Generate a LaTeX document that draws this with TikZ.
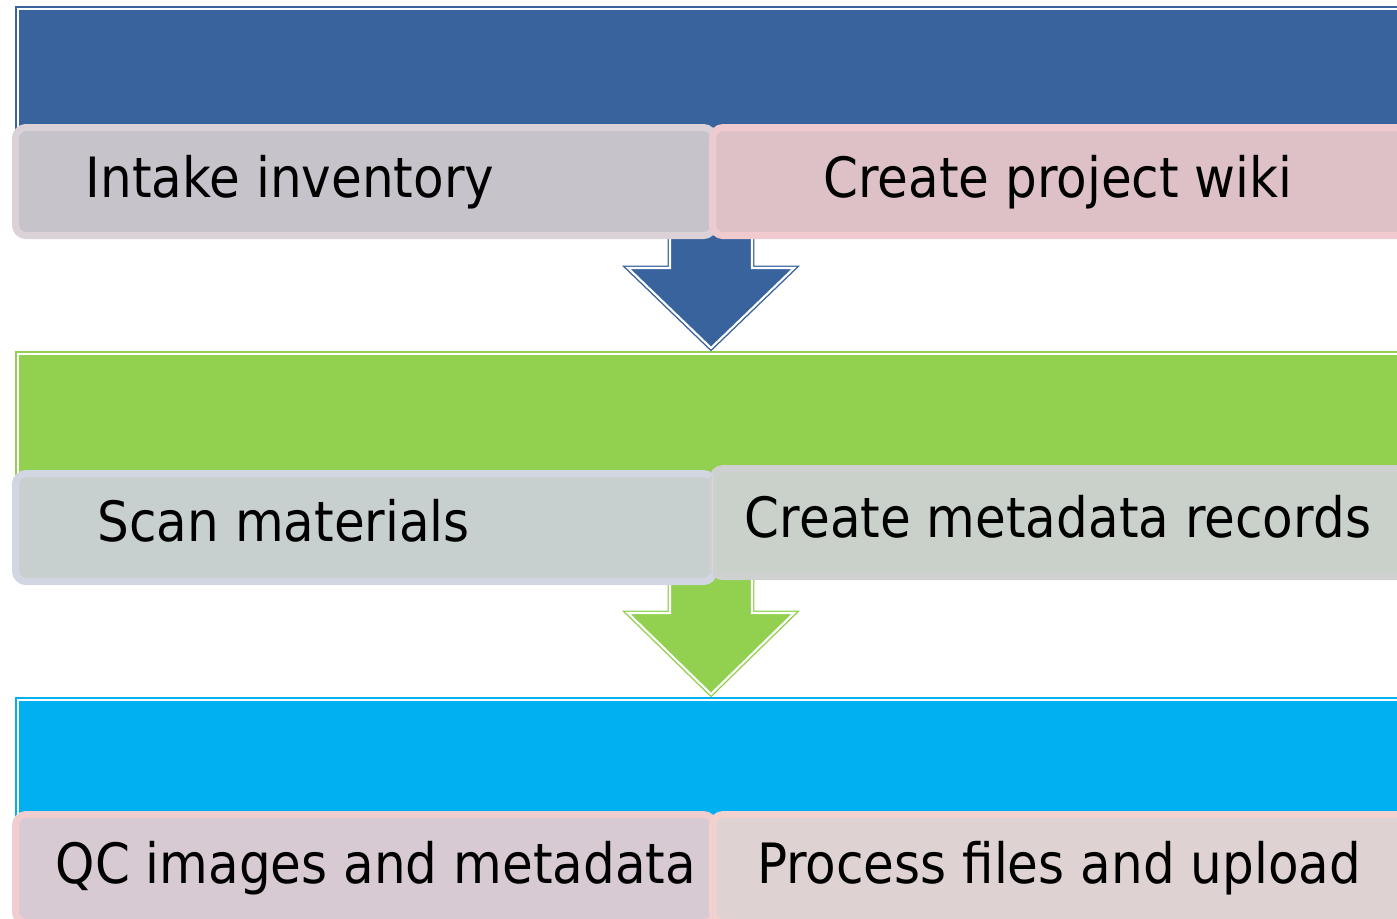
\documentclass[tikz,border=0pt]{standalone}
\usepackage{fontspec}
\setmainfont{DejaVu Sans}[FakeStretch=0.9]
\usepackage{tikz}
\usetikzlibrary{positioning, calc}
\definecolor{planblue}{RGB}{57, 99, 157}
\definecolor{scangreen}{RGB}{146, 208, 80}
\definecolor{qccyan}{RGB}{0, 176, 240}
\definecolor{intakefill}{RGB}{198, 195, 203}
\definecolor{intakeline}{RGB}{218, 210, 215}
\definecolor{wikifill}{RGB}{222, 192, 199}
\definecolor{wikiline}{RGB}{240, 202, 206}
\definecolor{scanfill}{RGB}{200, 208, 207}
\definecolor{scanline}{RGB}{210, 214, 226}
\definecolor{metafill}{RGB}{201, 209, 202}
\definecolor{metaline}{RGB}{207, 209, 209}
\definecolor{qcfill}{RGB}{216, 202, 210}
\definecolor{qcline}{RGB}{240, 206, 208}
\definecolor{uploadfill}{RGB}{222, 210, 211}
\definecolor{uploadline}{RGB}{243, 209, 207}

\begin{document}
\begin{tikzpicture}[
    x=0.01cm, y=-0.01cm,
    band/.style={draw=#1, fill=#1, double=white, double distance=0.6pt, line width=0.4pt, minimum width=14cm, minimum height=1.5cm, anchor=north west, inner sep=0pt},
    taskbox/.style={draw=#1line, fill=#1fill, line width=2pt, rounded corners=3pt, minimum width=6.98cm, minimum height=1.08cm, anchor=north west, inner sep=0pt},
    tasktext/.style={font=\fontsize{15.8}{19}\selectfont, inner sep=0pt},
    blockarrow/.style={draw=#1, fill=#1, double=white, double distance=0.6pt, line width=0.4pt}
]
    \useasboundingbox (0,0) rectangle (1397,918);
    \clip (0,0) rectangle (1397,918);

    % Bands
    \node[band=planblue] (planband) at (17,8) {};
    \node[band=scangreen] (scanband) at (17,353) {};
    \node[band=qccyan] (qcband) at (17,699) {};

    % Block arrows
    \coordinate (tip1) at (711,348);
    \coordinate (tip2) at (711,694);
    \draw[blockarrow=planblue] (tip1) -- ++(-83,-80) -- ++(42,0) -- ++(0,-80) -- ++(82,0) -- ++(0,80) -- ++(42,0) -- cycle;
    \draw[blockarrow=scangreen] (tip2) -- ++(-83,-81) -- ++(42,0) -- ++(0,-80) -- ++(82,0) -- ++(0,80) -- ++(42,0) -- cycle;

    % Nodes - top row
    \node[taskbox=intake] (intake) at (12,124) {};
    \node[taskbox=wiki, minimum width=7.04cm] (wiki) at (709,124) {};

    % Nodes - middle row
    \node[taskbox=scan] (scan) at (12,470) {};
    \node[taskbox=meta, minimum width=7.04cm] (meta) at (709,465) {};

    % Nodes - bottom row
    \node[taskbox=qc] (qc) at (12,811) {};
    \node[taskbox=upload, minimum width=7.04cm] (upload) at (709,811) {};

    % Inner lines
    \foreach \n in {intake, wiki, scan, meta, qc, upload}
        \draw[\n line, line width=0.5pt] ([shift={(5,5)}]\n.north west) rectangle ([shift={(-5,-5)}]\n.south east);

    % Labels
    \node[tasktext, anchor=base west] (intakeT) at (85,197) {Intake inventory};
    \node[tasktext, anchor=base] (wikiT) at (1058,197) {Create project wiki};
    \node[tasktext, anchor=base west] (scanT) at (97,541) {Scan materials};
    \node[tasktext, anchor=base] (metaT) at (1058,537) {Create metadata records};
    \node[tasktext, anchor=base west] (qcT) at (55,883) {QC images and metadata};
    \node[tasktext, anchor=base] (uploadT) at (1059,883) {Process files and upload};
\end{tikzpicture}
\end{document}
